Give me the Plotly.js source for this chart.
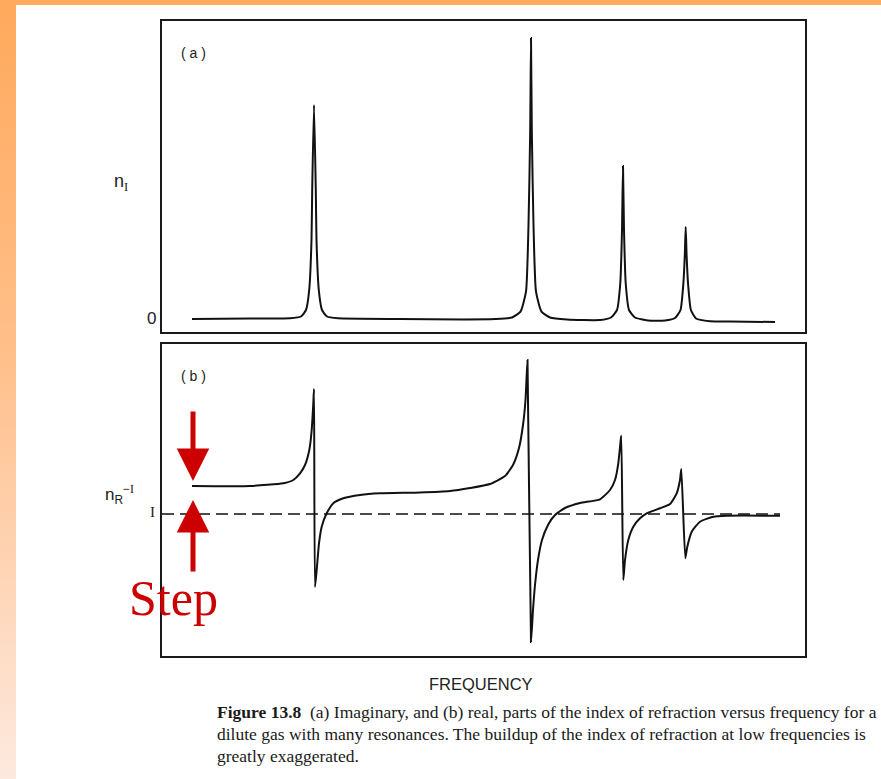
<!DOCTYPE html>
<html>
<head>
<meta charset="utf-8">
<script src="https://cdn.plot.ly/plotly-3.0.1.min.js"></script>
<style>
  html, body { margin: 0; padding: 0; background: #ffffff; }
  #wrap { position: relative; width: 881px; height: 779px; overflow: hidden; background: #ffffff; }
  #leftband { position: absolute; left: 0; top: 0; width: 16px; height: 779px;
              background: linear-gradient(to bottom, #ffa95c 0%, #ffbf8a 45%, #fde9df 100%); }
  #topband { position: absolute; left: 0; top: 0; width: 881px; height: 5px; background: #ffab5e; }
  #chart { position: absolute; left: 0; top: 0; width: 881px; height: 779px; }
</style>
</head>
<body>
<div id="wrap">
  <div id="leftband"></div>
  <div id="topband"></div>
  <div id="chart"></div>
</div>
<script>
// ---- Data (frequency in arbitrary units) ----
// (a) imaginary part n_I
const freqA = [15, 44, 64, 69.5, 72, 73.6, 74.75, 75.1, 76, 76.9, 77.25, 78.4, 80, 82.5, 88,
  119, 150,
  166.5, 175, 179.25, 182, 183.25, 184.1, 184.5, 184.9, 185.75, 187, 189.75, 194, 202.5,
  219, 224.5, 227.5, 229.15, 230, 230.5, 231, 231.85, 233.5, 236.5, 243,
  251.5, 256.5, 259.25, 260.7, 261.4, 261.85, 262.3, 263, 264.45, 267, 274,
  284, 306.5];
const nImag = [0.5, 0.75, 0.85, 1.75, 5, 15, 40, 65, 107.5, 65, 40, 15, 5, 1.75, 0.85,
  0.5, 0.3,
  0.5, 1.25, 4.15, 14.15, 47.5, 95, 141, 95, 47.5, 14.15, 4.15, 1.25, 0.25,
  0, 1.25, 5, 18.5, 45, 77, 45, 18.5, 5, 1.25, -0.25,
  -0.25, 1, 5, 18.5, 32.5, 46.5, 32.5, 18.5, 5, 0.75, -0.6,
  -0.75, -1];

// (b) real part n_R - 1
const freqB = [15, 44, 60.65, 65.65, 69, 71.5, 73.65, 74.85, 75.65, 76,
  76.5, 77.35, 78.5, 79.85, 82.35, 85.65, 90.65, 99, 109, 129, 144,
  154, 164, 171.5, 175.5, 178.5, 180.5, 181.75, 182.75,
  184.5, 185.5, 186.5, 188, 190, 193, 196.5, 201.5, 209, 219,
  224, 226.5, 228.15, 229.35, 229.65,
  230.65, 231.5, 233.15, 235.65, 239, 242.35, 249, 254, 257.35, 259, 259.65,
  261.65, 262.65, 264.85, 269, 275.65, 282.35, 309];
const nReal = [14, 14, 15.35, 17, 20.35, 24.5, 32, 42, 55.35, 62.5,
  -36.5, -28, -14.65, -6.35, 0.35, 5.35, 7.85, 9.5, 10.35, 10.75, 11.5,
  13, 15, 19, 24.5, 33, 44.5, 57, 77,
  -64, -48, -35.5, -23, -13, -5.5, -0.5, 3, 5.5, 7.35,
  12, 17, 25.35, 37, 39.15,
  -33, -23, -13, -6.35, -2.15, 0.35, 2.85, 5, 10.35, 17, 22.5,
  -22.15, -16.35, -8.85, -3.85, -1.35, -0.85, -0.85];

// reference level (dashed)
const refFreq = [0, 309];
const refLevel = [0, 0];

// ---- Layout helpers (window pixel -> paper fraction) ----
const W = 881, H = 779;
const PX = x => x / W;
const PY = y => 1 - y / H;

const lineCol = '#111111';
const txtCol = '#222222';
const sans = 'Liberation Sans, Arial, sans-serif';
const serif = 'Liberation Serif, Times New Roman, serif';

const traces = [
  { x: freqA, y: nImag, xaxis: 'x', yaxis: 'y', mode: 'lines',
    line: { color: lineCol, width: 2, shape: 'spline', smoothing: 0.5 }, hoverinfo: 'skip' },
  { x: refFreq, y: refLevel, xaxis: 'x2', yaxis: 'y2', mode: 'lines',
    line: { color: lineCol, width: 1.6, dash: '12px,6px' }, hoverinfo: 'skip' },
  { x: freqB, y: nReal, xaxis: 'x2', yaxis: 'y2', mode: 'lines',
    line: { color: lineCol, width: 2, shape: 'spline', smoothing: 0.5 }, hoverinfo: 'skip' }
];

const axBase = { showgrid: false, zeroline: false, showticklabels: false, ticks: '',
  showline: true, mirror: true, linecolor: '#1a1a1a', linewidth: 2, fixedrange: true };

function label(text, x, y, font, extra) {
  return Object.assign({ text: text, xref: 'paper', yref: 'paper', x: PX(x), y: PY(y),
    xanchor: 'center', yanchor: 'middle', showarrow: false, font: font }, extra || {});
}

const serifI = '<span style="font-family:Liberation Serif, serif">I</span>';

const layout = {
  width: W, height: H,
  margin: { l: 0, r: 0, t: 0, b: 0 },
  paper_bgcolor: 'rgba(0,0,0,0)',
  plot_bgcolor: '#ffffff',
  showlegend: false,
  xaxis: Object.assign({}, axBase, { domain: [PX(162), PX(805)], range: [0, 321.5], anchor: 'y' }),
  yaxis: Object.assign({}, axBase, { domain: [PY(332), PY(21)], range: [-6, 149.5], anchor: 'x' }),
  xaxis2: Object.assign({}, axBase, { domain: [PX(162), PX(805)], range: [0, 321.5], anchor: 'y2' }),
  yaxis2: Object.assign({}, axBase, { domain: [PY(656), PY(344)], range: [-71, 85], anchor: 'x2' }),
  annotations: [
    label('( a )', 193, 53, { family: sans, size: 14, color: txtCol }),
    label('( b )', 193, 376, { family: sans, size: 14, color: txtCol }),
    label('n<sub>' + serifI + '</sub>', 121, 182, { family: sans, size: 18, color: txtCol }),
    label('0', 151, 318, { family: sans, size: 17, color: txtCol }),
    label('n<sub>R</sub><sup>−' + serifI + '</sup>', 119, 494, { family: sans, size: 17, color: txtCol }),
    label(serifI, 152, 512, { family: serif, size: 15, color: txtCol }),
    label('FREQUENCY', 481, 684, { family: sans, size: 16.5, color: txtCol }),
    // Step arrows
    { text: '', xref: 'x2', yref: 'y2', x: 15.5, y: 16.5, ax: 0, ay: -71, axref: 'pixel', ayref: 'pixel',
      showarrow: true, arrowhead: 2, arrowsize: 1.3, arrowwidth: 5, arrowcolor: '#cc0000', standoff: 0 },
    { text: '', xref: 'x2', yref: 'y2', x: 15.5, y: 7, ax: 0, ay: 73, axref: 'pixel', ayref: 'pixel',
      showarrow: true, arrowhead: 2, arrowsize: 1.3, arrowwidth: 5, arrowcolor: '#cc0000', standoff: 0 },
    label('Step', 173, 598, { family: serif, size: 50, color: '#cc0000' }),
    // Caption
    label('<b>Figure 13.8</b>&nbsp;&nbsp;(a) Imaginary, and (b) real, parts of the index of refraction versus frequency for a',
      215, 712, { family: serif, size: 17.5, color: '#1a1a1a' }, { xanchor: 'left' }),
    label('dilute gas with many resonances. The buildup of the index of refraction at low frequencies is',
      215, 734, { family: serif, size: 17.5, color: '#1a1a1a' }, { xanchor: 'left' }),
    label('greatly exaggerated.',
      215, 756, { family: serif, size: 17.5, color: '#1a1a1a' }, { xanchor: 'left' })
  ]
};

Plotly.newPlot('chart', traces, layout, { staticPlot: true, displayModeBar: false });
</script>
</body>
</html>
